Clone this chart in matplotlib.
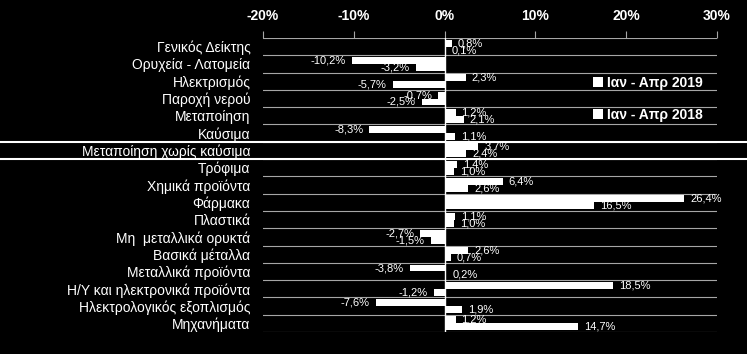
import matplotlib.pyplot as plt
import numpy as np
from matplotlib.lines import Line2D
from matplotlib.transforms import blended_transform_factory

plt.rcParams['font.family'] = ['Liberation Sans', 'DejaVu Sans']

categories = ['Γενικός Δείκτης', 'Ορυχεία - Λατομεία', 'Ηλεκτρισμός', 'Παροχή νερού',
              'Μεταποίηση', 'Καύσιμα', 'Μεταποίηση χωρίς καύσιμα', 'Τρόφιμα',
              'Χημικά προϊόντα', 'Φάρμακα', 'Πλαστικά', 'Μη  μεταλλικά ορυκτά',
              'Βασικά μέταλλα', 'Μεταλλικά προϊόντα', 'Η/Υ και ηλεκτρονικά προϊόντα',
              'Ηλεκτρολογικός εξοπλισμός', 'Μηχανήματα']
jan_apr_2019 = [0.8, -10.2, 2.3, -0.7, 1.2, -8.3, 3.7, 1.4, 6.4, 26.4, 1.1, -2.7, 2.6, -3.8, 18.5, -7.6, 1.2]
jan_apr_2018 = [0.1, -3.2, -5.7, -2.5, 2.1, 1.1, 2.4, 1.0, 2.6, 16.5, 1.0, -1.5, 0.7, 0.2, -1.2, 1.9, 14.7]
xticks = [-20, -10, 0, 10, 20, 30]

fig = plt.figure(figsize=(7.47, 3.54), dpi=100, facecolor='black')
ax = fig.add_axes([0.352, 0.0621, 0.608, 0.8306], facecolor='black')

y = np.arange(len(categories))
h = 0.4
ax.barh(y - h / 2, jan_apr_2019, height=h, color='white', label='Ιαν - Απρ 2019')
ax.barh(y + h / 2, jan_apr_2018, height=h, color='white', label='Ιαν - Απρ 2018')

def fmt(v):
    return f'{v:.1f}%'.replace('.', ',')

for vals, off in [(jan_apr_2019, -h / 2), (jan_apr_2018, h / 2)]:
    for i, v in enumerate(vals):
        ax.annotate(fmt(v), (v, i + off), xytext=(6 if v >= 0 else -6, 0),
                    textcoords='offset pixels', ha='left' if v >= 0 else 'right',
                    va='center', color='white', fontsize=8)

ax.set_xlim(-20, 30)
ax.set_ylim(len(categories) - 0.5, -0.5)
ax.set_xticks(xticks)
ax.set_xticklabels([f'{t}%' for t in xticks], fontweight='bold', fontsize=10, color='white')
ax.xaxis.tick_top()
ax.tick_params(axis='x', direction='out', length=5, color='#a6a6a6', pad=6)
ax.set_yticks(y)
ax.set_yticklabels(categories, fontsize=10, color='white')
ax.tick_params(axis='y', length=0, pad=9)

for b in np.arange(-0.5, len(categories), 1.0):
    ax.axhline(b, color='#a6a6a6', lw=0.8, zorder=0)
ax.axvline(0, color='white', lw=1, zorder=3)
for s in ax.spines.values():
    s.set_visible(False)

# white lines framing "Μεταποίηση χωρίς καύσιμα" across the full width
tr = blended_transform_factory(fig.transFigure, ax.transData)
for b in [5.5, 6.5]:
    fig.add_artist(Line2D([0, 1], [b, b], transform=tr, color='white', lw=1.5))

ax.legend(loc='center left', bbox_to_anchor=(0.785, 0.72), bbox_transform=fig.transFigure,
          frameon=False, labelcolor='white', prop={'weight': 'bold', 'size': 10},
          handlelength=0.7, handletextpad=0.3, labelspacing=1.3, borderpad=0)

fig.savefig('out.png', dpi=100, facecolor='black')
